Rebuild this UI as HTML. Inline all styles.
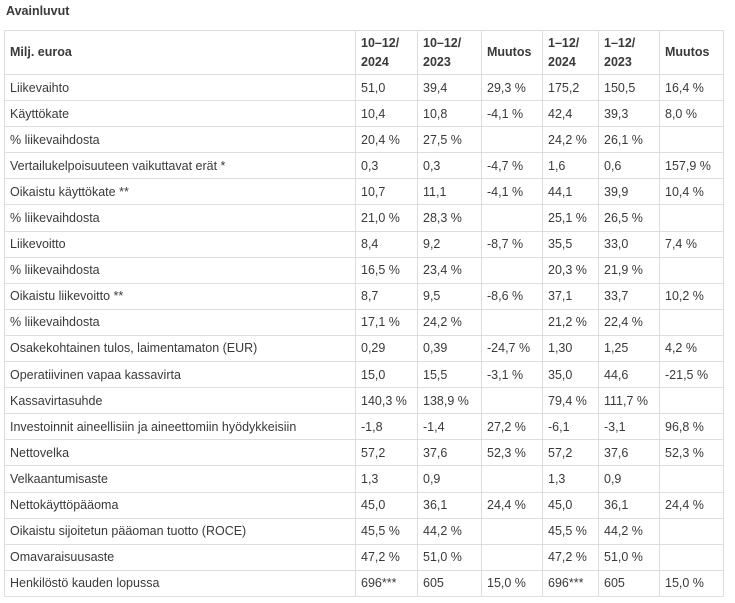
<!DOCTYPE html>
<html><head><meta charset="utf-8"><style>
body{margin:0;background:#fff;font-family:"Liberation Sans",Arial,sans-serif;color:#333;width:735px;height:603px;overflow:hidden}
.t{position:absolute;left:6px;top:4px;font-size:12.5px;font-weight:bold;color:#3a3a3a}
table{position:absolute;left:4px;top:30px;border-collapse:collapse;table-layout:fixed;font-size:12.5px;color:#3a3a3a}
td,th{border:1px solid #ddd;padding:0 0 0 5px;height:25.1px;text-align:left;white-space:nowrap;overflow:hidden}
th{font-weight:bold;height:43px;line-height:19px}
</style></head><body>
<div class="t">Avainluvut</div>
<table>
<colgroup><col style="width:351px"><col style="width:62px"><col style="width:64px"><col style="width:61px"><col style="width:56px"><col style="width:61px"><col style="width:64px"></colgroup>
<tr><th>Milj. euroa</th><th>10–12/<br>2024</th><th>10–12/<br>2023</th><th>Muutos</th><th>1–12/<br>2024</th><th>1–12/<br>2023</th><th>Muutos</th></tr>
<tr><td>Liikevaihto</td><td>51,0</td><td>39,4</td><td>29,3 %</td><td>175,2</td><td>150,5</td><td>16,4 %</td></tr>
<tr><td>Käyttökate</td><td>10,4</td><td>10,8</td><td>-4,1 %</td><td>42,4</td><td>39,3</td><td>8,0 %</td></tr>
<tr><td>% liikevaihdosta</td><td>20,4 %</td><td>27,5 %</td><td></td><td>24,2 %</td><td>26,1 %</td><td></td></tr>
<tr><td>Vertailukelpoisuuteen vaikuttavat erät *</td><td>0,3</td><td>0,3</td><td>-4,7 %</td><td>1,6</td><td>0,6</td><td>157,9 %</td></tr>
<tr><td>Oikaistu käyttökate **</td><td>10,7</td><td>11,1</td><td>-4,1 %</td><td>44,1</td><td>39,9</td><td>10,4 %</td></tr>
<tr><td>% liikevaihdosta</td><td>21,0 %</td><td>28,3 %</td><td></td><td>25,1 %</td><td>26,5 %</td><td></td></tr>
<tr><td>Liikevoitto</td><td>8,4</td><td>9,2</td><td>-8,7 %</td><td>35,5</td><td>33,0</td><td>7,4 %</td></tr>
<tr><td>% liikevaihdosta</td><td>16,5 %</td><td>23,4 %</td><td></td><td>20,3 %</td><td>21,9 %</td><td></td></tr>
<tr><td>Oikaistu liikevoitto **</td><td>8,7</td><td>9,5</td><td>-8,6 %</td><td>37,1</td><td>33,7</td><td>10,2 %</td></tr>
<tr><td>% liikevaihdosta</td><td>17,1 %</td><td>24,2 %</td><td></td><td>21,2 %</td><td>22,4 %</td><td></td></tr>
<tr><td>Osakekohtainen tulos, laimentamaton (EUR)</td><td>0,29</td><td>0,39</td><td>-24,7 %</td><td>1,30</td><td>1,25</td><td>4,2 %</td></tr>
<tr><td>Operatiivinen vapaa kassavirta</td><td>15,0</td><td>15,5</td><td>-3,1 %</td><td>35,0</td><td>44,6</td><td>-21,5 %</td></tr>
<tr><td>Kassavirtasuhde</td><td>140,3 %</td><td>138,9 %</td><td></td><td>79,4 %</td><td>111,7 %</td><td></td></tr>
<tr><td>Investoinnit aineellisiin ja aineettomiin hyödykkeisiin</td><td>-1,8</td><td>-1,4</td><td>27,2 %</td><td>-6,1</td><td>-3,1</td><td>96,8 %</td></tr>
<tr><td>Nettovelka</td><td>57,2</td><td>37,6</td><td>52,3 %</td><td>57,2</td><td>37,6</td><td>52,3 %</td></tr>
<tr><td>Velkaantumisaste</td><td>1,3</td><td>0,9</td><td></td><td>1,3</td><td>0,9</td><td></td></tr>
<tr><td>Nettokäyttöpääoma</td><td>45,0</td><td>36,1</td><td>24,4 %</td><td>45,0</td><td>36,1</td><td>24,4 %</td></tr>
<tr><td>Oikaistu sijoitetun pääoman tuotto (ROCE)</td><td>45,5 %</td><td>44,2 %</td><td></td><td>45,5 %</td><td>44,2 %</td><td></td></tr>
<tr><td>Omavaraisuusaste</td><td>47,2 %</td><td>51,0 %</td><td></td><td>47,2 %</td><td>51,0 %</td><td></td></tr>
<tr><td>Henkilöstö kauden lopussa</td><td>696***</td><td>605</td><td>15,0 %</td><td>696***</td><td>605</td><td>15,0 %</td></tr>
</table>
</body></html>
